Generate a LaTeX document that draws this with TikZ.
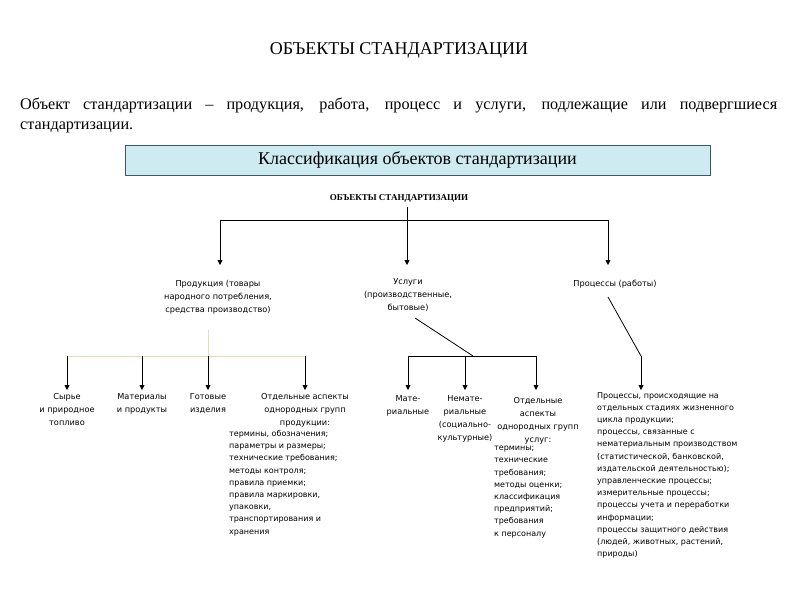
\documentclass[tikz,border=0pt]{standalone}
\usepackage{fontspec}
\setmainfont{Liberation Serif}
\newfontfamily\gsans{DejaVu Sans}
\usetikzlibrary{arrows.meta}
\begin{document}
\begin{tikzpicture}[x=1pt,y=-1pt,
  lbl/.style={font=\gsans\fontsize{8.2}{13}\selectfont, align=center, inner sep=0},
  lst/.style={font=\gsans\fontsize{8}{12.2}\selectfont, align=left, inner sep=0, anchor=north west},
  arr/.style={-{Triangle[length=5pt,width=5pt]}, thick},
  ln/.style={thick},
  beige/.style={draw={rgb,255:red,235;green,215;blue,190}, thick}]
\useasboundingbox (0,0) rectangle (800,600);
\fill[white] (0,0) rectangle (800,600);
\node[font=\fontsize{18}{20}\selectfont] (t) at (399,50) {ОБЪЕКТЫ СТАНДАРТИЗАЦИИ};
\node[anchor=north west, inner sep=0, text width=757pt, align=justify, font=\fontsize{16.2}{20}\selectfont] (def) at (20,98)
 {Объект стандартизации -- продукция, работа, процесс и услуги, подлежащие или подвергшиеся\linebreak стандартизации.};
\node[draw={rgb,255:red,60;green,90;blue,100}, fill={rgb,255:red,205;green,235;blue,240}, minimum width=585pt, minimum height=30pt, font=\fontsize{18}{20}\selectfont, inner sep=0] (cls) at (417.5,160) {Классификация объектов стандартизации};
\node[font=\bfseries\fontsize{9}{10}\selectfont] (obj) at (399,198) {ОБЪЕКТЫ СТАНДАРТИЗАЦИИ};
\coordinate (h) at (407,220);
\draw[ln] (220,220) -- (608,220);
\draw[ln] (407,207) -- (h);
\node[lbl] (prod) at (218,297) {Продукция (товары\\народного потребления,\\средства производство)};
\node[lbl] (usl) at (408,295) {Услуги\\(производственные,\\бытовые)};
\node[lbl] (proc) at (615,284) {Процессы (работы)};
\draw[arr] (220,220) -- (220,265);
\draw[arr] (407,220) -- (407,265);
\draw[arr] (608,220) -- (608,265);
% product branch
\draw[beige] (208,330) -- (208,356);
\draw[beige] (67,356) -- (305,356);
\foreach \x in {67,142,208,305} \draw[arr] (\x,356) -- (\x,390);
\node[lbl, anchor=north] (p1) at (67,393) {Сырье\\и природное\\топливо};
\node[lbl, anchor=north] (p2) at (142,393) {Материалы\\и продукты};
\node[lbl, anchor=north] (p3) at (208,393) {Готовые\\изделия};
\node[lbl, anchor=north] (p4) at (305,393) {Отдельные аспекты\\однородных групп\\продукции:};
\node[lst] (p4l) at (229,430) {термины, обозначения;\\параметры и размеры;\\технические требования;\\методы контроля;\\правила приемки;\\правила маркировки,\\упаковки,\\транспортирования и\\хранения};
% services branch
\coordinate (sj) at (473,356);
\draw[ln] (415,318) -- (sj);
\draw[ln] (408,356) -- (536,356);
\foreach \x in {408,465,536} \draw[arr] (\x,356) -- (\x,390);
\node[lbl, anchor=north] (s1) at (408,395) {Мате-\\риальные};
\node[lbl, anchor=north] (s2) at (465,395) {Немате-\\риальные\\(социально-\\культурные)};
\node[lbl, anchor=north] (s3) at (538,397) {Отдельные\\аспекты\\однородных групп\\услуг:};
\node[lst] (s3l) at (494,446) {термины;\\технические\\требования;\\методы оценки;\\классификация\\предприятий;\\требования\\к персоналу};
% processes
\coordinate (pj) at (641,356);
\draw[ln] (608,297) -- (pj);
\draw[arr] (pj) -- (641,390);
\node[lst] (pl) at (597,392) {Процессы, происходящие на\\отдельных стадиях жизненного\\цикла продукции;\\процессы, связанные с\\нематериальным производством\\(статистической, банковской,\\издательской деятельностью);\\управленческие процессы;\\измерительные процессы;\\процессы учета и переработки\\информации;\\процессы защитного действия\\(людей, животных, растений,\\природы)};
\end{tikzpicture}
\end{document}
